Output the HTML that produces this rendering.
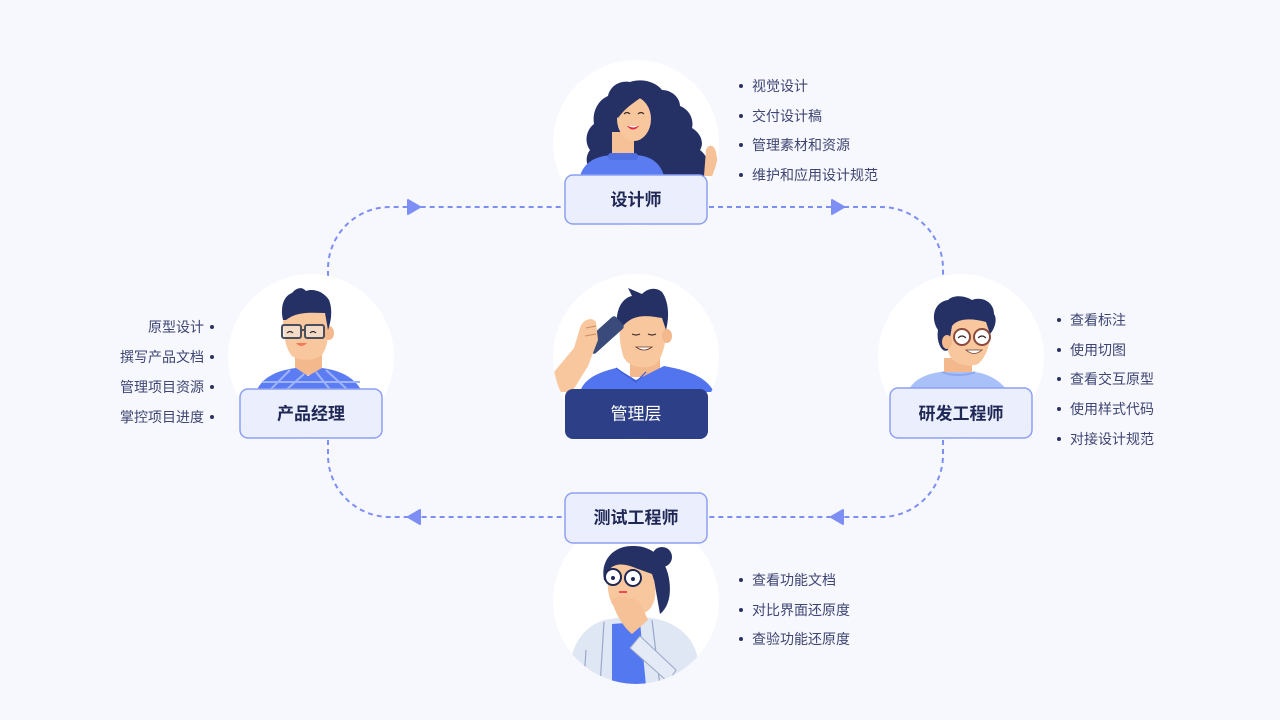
<!DOCTYPE html>
<html><head><meta charset="utf-8">
<style>
html,body{margin:0;padding:0;background:#f7f8fe;}
svg{display:block;}
.t{font-family:"Liberation Sans","Noto Sans CJK SC",sans-serif;font-size:14px;fill:#3e4572;dominant-baseline:central;}
.lb{font-family:"Liberation Sans","Noto Sans CJK SC",sans-serif;font-size:17px;font-weight:bold;fill:#1f2755;dominant-baseline:central;text-anchor:middle;}
.bx{fill:#eaeefd;stroke:#8d9ff4;stroke-width:1.5;}
.dl{fill:none;stroke:#7d8ff4;stroke-width:2;stroke-dasharray:5 4;}
</style></head>
<body>
<svg width="1280" height="720" viewBox="0 0 1280 720" xmlns="http://www.w3.org/2000/svg">
<defs>
<clipPath id="c1"><circle cx="636" cy="143" r="83"/></clipPath>
<clipPath id="c2"><circle cx="311" cy="357" r="83"/></clipPath>
<clipPath id="c3"><circle cx="636" cy="357" r="83"/></clipPath>
<clipPath id="c4"><circle cx="961" cy="357" r="83"/></clipPath>
<clipPath id="c5"><circle cx="636" cy="601" r="83"/></clipPath>
</defs>
<rect width="1280" height="720" fill="#f7f8fe"/>

<!-- connectors -->
<path class="dl" d="M328,276 L328,269 A62,62 0 0 1 390,207 L563,207"/>
<path class="dl" d="M709,207 L881,207 A62,62 0 0 1 943,269 L943,276"/>
<path class="dl" d="M943,440 L943,455 A62,62 0 0 1 881,517 L709,517"/>
<path class="dl" d="M328,440 L328,455 A62,62 0 0 0 390,517 L563,517"/>
<path d="M408,200 L420,207 L408,214 Z" fill="#7d8ff4" stroke="#7d8ff4" stroke-width="2" stroke-linejoin="round"/>
<path d="M832,200 L844,207 L832,214 Z" fill="#7d8ff4" stroke="#7d8ff4" stroke-width="2" stroke-linejoin="round"/>
<path d="M843,510 L831,517 L843,524 Z" fill="#7d8ff4" stroke="#7d8ff4" stroke-width="2" stroke-linejoin="round"/>
<path d="M420,510 L408,517 L420,524 Z" fill="#7d8ff4" stroke="#7d8ff4" stroke-width="2" stroke-linejoin="round"/>

<!-- circles -->
<circle cx="636" cy="143" r="83" fill="#fff"/>
<circle cx="311" cy="357" r="83" fill="#fff"/>
<circle cx="636" cy="357" r="83" fill="#fff"/>
<circle cx="961" cy="357" r="83" fill="#fff"/>
<circle cx="636" cy="601" r="83" fill="#fff"/>

<!-- Designer -->
<g clip-path="url(#c1)">
  <path d="M596,176 C586,168 584,158 590,150 C584,142 586,130 594,124 C592,112 598,100 608,96 C610,86 620,80 630,82 C642,78 656,82 662,90 C672,90 680,98 680,106 C690,110 694,120 692,128 C702,134 704,144 700,150 C708,156 710,166 708,176 Z" fill="#253165"/>
  <rect x="612" y="132" width="22" height="26" fill="#f7c197"/>
  <ellipse cx="634" cy="119" rx="17" ry="22" fill="#f9c79d"/>
  <path d="M613,114 C614,96 628,88 646,93 C640,100 628,104 618,118 Z" fill="#253165"/>
  <path d="M580,176 C584,162 596,156 612,155 L636,155 C650,156 660,162 664,176 Z" fill="#5a7cf0"/>
  <rect x="608" y="153" width="30" height="7" rx="3" fill="#4f6fe3"/>
  <path d="M624,114 q3,-3 6,0 M638,114 q3,-3 6,0" stroke="#3a2a2a" stroke-width="1.2" fill="none"/>
  <path d="M627,126 q6,7 12,0 Z" fill="#e8233a"/>
  <path d="M628,126 q5,3 10,0 Z" fill="#fff"/>
  <path d="M704,176 L706,150 C708,144 714,144 716,152 L720,176 Z" fill="#f7c197"/>
</g>

<!-- PM -->
<g clip-path="url(#c2)">
  <rect x="295" y="350" width="27" height="25" fill="#f3b98d"/>
  <path d="M283,315 C283,300 292,298 306,308 L326,308 C330,318 330,345 322,355 C316,360 300,362 292,356 C285,348 283,332 283,315 Z" fill="#f9c79d"/>
  <ellipse cx="329" cy="333" rx="5" ry="7" fill="#f3b98d"/>
  <path d="M283,320 C280,306 284,296 292,293 C296,288 302,286 306,291 C314,288 324,292 329,300 C333,310 331,322 328,330 L325,313 C312,313 298,311 286,320 Z" fill="#253165"/>
  <path d="M256,392 C262,376 280,370 296,368 L308,376 L322,368 C340,370 356,378 362,392 Z" fill="#5b7cf2"/>
  <path d="M268,392 L290,370 M284,392 L304,374 M332,392 L316,372 M350,392 L326,370 M262,382 L360,382" stroke="#9fb4fa" stroke-width="2" fill="none"/>
  <rect x="282" y="325" width="19" height="13" rx="2" fill="#eef0f4" fill-opacity="0.5" stroke="#4a4f5c" stroke-width="2"/>
  <rect x="305" y="325" width="19" height="13" rx="2" fill="#eef0f4" fill-opacity="0.5" stroke="#4a4f5c" stroke-width="2"/>
  <path d="M301,330 L305,330" stroke="#4a4f5c" stroke-width="2"/>
  <path d="M287,333 q3,-3 6,0 M310,333 q3,-3 6,0" stroke="#3a2a2a" stroke-width="1.2" fill="none"/>
  <path d="M296,343 q5,6 11,0 Z" fill="#f07a5a"/>
</g>

<!-- Manager -->
<g clip-path="url(#c3)">
  <rect x="630" y="355" width="30" height="22" fill="#f3b98d"/>
  <path d="M620,320 C620,310 630,306 645,308 L666,316 C668,335 664,356 656,364 C646,370 630,368 624,358 C620,348 619,335 620,320 Z" fill="#f9c79d"/>
  <ellipse cx="667" cy="336" rx="5" ry="7" fill="#f3b98d"/>
  <path d="M617,328 C615,310 622,298 632,296 L628,288 L642,294 C648,288 656,287 662,292 C668,300 670,315 666,330 L662,318 C648,316 632,312 620,330 Z" fill="#253165"/>
  <path d="M632,334 q4,2 8,0 M648,334 q4,2 8,0" stroke="#3a2a2a" stroke-width="1.2" fill="none"/>
  <path d="M636,347 q8,6 16,0 Z" fill="#fff" stroke="#6a3a2a" stroke-width="0.8"/>
  <rect x="596" y="314" width="16" height="42" rx="3" fill="#3a4a7a" transform="rotate(48 604 335)"/>
  <path d="M554,372 L574,348 L580,328 C582,320 592,316 596,322 L598,340 L588,366 L572,392 L554,392 Z" fill="#f9c79d"/>
  <path d="M586,328 L596,326 M585,336 L596,334" stroke="#c98a66" stroke-width="1" fill="none"/>
  <path d="M580,392 C584,378 600,372 616,368 L636,380 L664,366 C686,370 706,376 714,392 Z" fill="#5274ee"/>
  <path d="M616,368 L636,382 L646,372" stroke="#3d5ad6" stroke-width="1.2" fill="none"/>
</g>

<!-- Dev -->
<g clip-path="url(#c4)">
  <rect x="944" y="358" width="28" height="16" fill="#f3b98d"/>
  <path d="M947,325 C948,314 958,310 972,312 L990,320 C992,338 988,356 978,364 C968,368 954,364 950,356 C946,348 946,336 947,325 Z" fill="#f9c79d"/>
  <path d="M938,330 C930,318 934,302 948,300 C954,294 966,296 972,300 C982,296 994,302 994,314 C998,320 994,330 990,334 L986,322 C972,318 958,318 952,326 L948,350 C942,354 936,342 938,330 Z" fill="#253165"/>
  <ellipse cx="947" cy="342" rx="5" ry="7" fill="#f3b98d"/>
  <circle cx="962" cy="337" r="8" fill="#fff" stroke="#8a4a3c" stroke-width="2"/>
  <circle cx="982" cy="337" r="8" fill="#fff" stroke="#8a4a3c" stroke-width="2"/>
  <path d="M958,338 q4,-4 8,0 M978,338 q4,-4 8,0" stroke="#3a2a2a" stroke-width="1.2" fill="none"/>
  <path d="M966,350 q8,7 16,0 Z" fill="#fff" stroke="#6a3a2a" stroke-width="0.8"/>
  <path d="M908,392 C912,380 926,374 940,372 L975,372 C990,374 1002,382 1008,392 Z" fill="#a9c1f8"/>
  <path d="M942,372 C950,376 966,376 975,372" stroke="#8da8f0" stroke-width="2" fill="none"/>
</g>

<!-- Tester -->
<g clip-path="url(#c5)">
  <circle cx="662" cy="557" r="10" fill="#253165"/>
  <path d="M604,580 C600,560 614,545 634,546 C652,546 664,558 668,574 C672,590 670,606 660,614 L654,580 C640,578 626,572 618,566 L612,586 Z" fill="#253165"/>
  <path d="M608,575 C608,566 618,562 630,566 L652,574 C658,590 656,606 646,612 C636,616 620,614 612,604 C608,596 607,585 608,575 Z" fill="#f9c79d"/>
  <path d="M568,686 C568,650 580,628 604,620 L630,616 L652,618 C676,622 694,636 698,660 L698,686 Z" fill="#dfe6f4"/>
  <path d="M612,624 L640,622 L646,686 L612,686 Z" fill="#5478f0"/>
  <path d="M604,622 L600,686 M652,620 L660,686 M586,650 L584,680" stroke="#9aa8c8" stroke-width="1.2" fill="none"/>
  <path d="M612,600 C616,594 630,596 640,602 L648,620 L632,634 C624,628 614,612 612,600 Z" fill="#f7c197"/>
  <path d="M640,636 L676,670 L668,682 L630,648 Z" fill="#e4eaf6" stroke="#9aa8c8" stroke-width="1"/>
  <circle cx="613" cy="577" r="8" fill="#fff" stroke="#1f2755" stroke-width="2"/>
  <circle cx="633" cy="578" r="8" fill="#fff" stroke="#1f2755" stroke-width="2"/>
  <circle cx="613" cy="578" r="2" fill="#1f2755"/>
  <circle cx="633" cy="579" r="2" fill="#1f2755"/>
  <path d="M619,592 L627,592" stroke="#e8233a" stroke-width="1.5"/>
</g>

<!-- boxes -->
<rect class="bx" x="565" y="175" width="142" height="49" rx="8"/>
<rect class="bx" x="240" y="389" width="142" height="49" rx="8"/>
<rect x="565" y="389" width="143" height="50" rx="8" fill="#2d3f86"/>
<rect class="bx" x="890" y="388" width="142" height="50" rx="8"/>
<rect class="bx" x="565" y="493" width="142" height="50" rx="8"/>

<text class="lb" x="636" y="200">设计师</text>
<text class="lb" x="311" y="414">产品经理</text>
<text class="lb" x="636" y="414" style="fill:#fff;font-weight:normal">管理层</text>
<text class="lb" x="961" y="414">研发工程师</text>
<text class="lb" x="636" y="518">测试工程师</text>

<g fill="#2a3160">
<circle cx="741" cy="86" r="2"/><circle cx="741" cy="116" r="2"/><circle cx="741" cy="145" r="2"/><circle cx="741" cy="175" r="2"/>
<circle cx="212" cy="327" r="2"/><circle cx="212" cy="357" r="2"/><circle cx="212" cy="387" r="2"/><circle cx="212" cy="417" r="2"/>
<circle cx="1059" cy="320" r="2"/><circle cx="1059" cy="350" r="2"/><circle cx="1059" cy="379" r="2"/><circle cx="1059" cy="409" r="2"/><circle cx="1059" cy="439" r="2"/>
<circle cx="741" cy="580" r="2"/><circle cx="741" cy="610" r="2"/><circle cx="741" cy="639" r="2"/>
</g>
<text class="t" x="752" y="86">视觉设计</text>
<text class="t" x="752" y="116">交付设计稿</text>
<text class="t" x="752" y="145">管理素材和资源</text>
<text class="t" x="752" y="175">维护和应用设计规范</text>

<text class="t" x="204" y="327" text-anchor="end">原型设计</text>
<text class="t" x="204" y="357" text-anchor="end">撰写产品文档</text>
<text class="t" x="204" y="387" text-anchor="end">管理项目资源</text>
<text class="t" x="204" y="417" text-anchor="end">掌控项目进度</text>

<text class="t" x="1070" y="320">查看标注</text>
<text class="t" x="1070" y="350">使用切图</text>
<text class="t" x="1070" y="379">查看交互原型</text>
<text class="t" x="1070" y="409">使用样式代码</text>
<text class="t" x="1070" y="439">对接设计规范</text>

<text class="t" x="752" y="580">查看功能文档</text>
<text class="t" x="752" y="610">对比界面还原度</text>
<text class="t" x="752" y="639">查验功能还原度</text>
</svg>
</body></html>
